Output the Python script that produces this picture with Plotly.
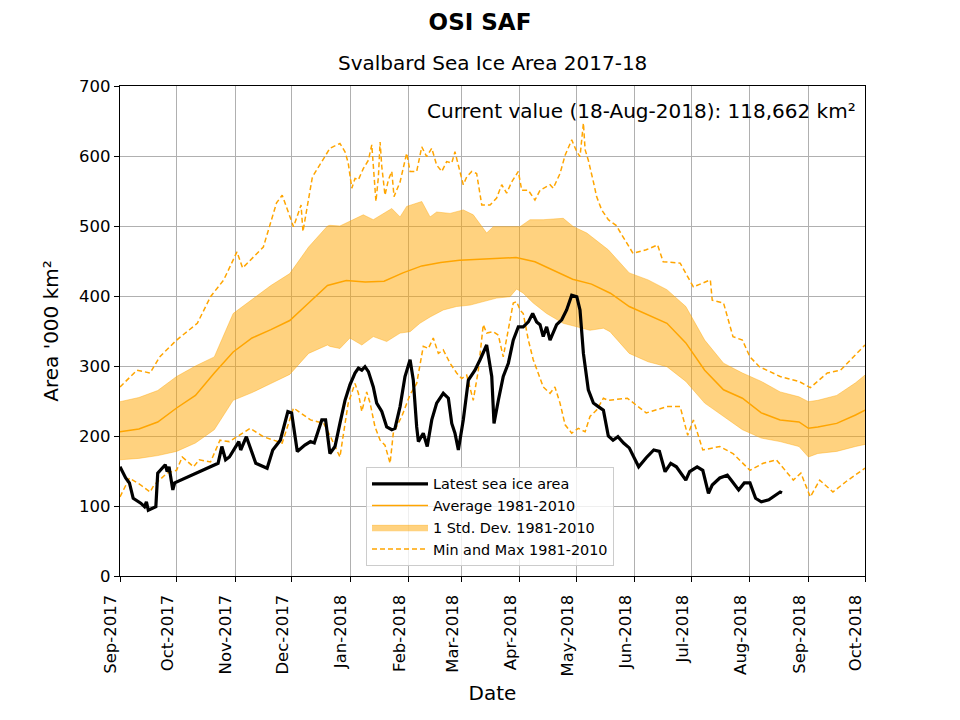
import pandas as pd
import plotly.graph_objects as go

BASE = "2017-09-01"

# Climatology 1981-2010 (days since 1 Sep 2017), values in '000 km²
avg_day = [0, 10, 20, 30, 40, 50, 60, 70, 80, 90, 100, 110, 120, 130, 140, 150, 160, 170, 180, 190,
           200, 210, 220, 230, 240, 250, 260, 270, 280, 290, 300, 310, 320, 330, 340, 350, 360, 365,
           370, 380, 390, 395]
avg_val = [206, 210, 220, 240, 258, 290, 320, 340, 352, 365, 390, 415, 422, 420, 421, 433, 443, 448, 451, 452,
           453, 455, 449, 436, 424, 417, 404, 385, 373, 361, 333, 294, 266, 254, 233, 223, 220, 211,
           213, 218, 230, 237]

upper_day = [0, 10, 20, 30, 40, 50, 60, 70, 80, 90, 100, 110,
             111.3, 116.6, 123.7, 129, 134.3, 144.1, 148.5, 152, 160, 164.4, 167.9, 175, 182, 187.3,
             194.4, 197.9, 205, 212.1, 217.4, 224.4, 235, 240.4, 247.5, 254.5, 258.9,
             270, 280, 290, 300, 310, 320, 330, 340, 350, 360, 365, 370, 380, 390, 395]
upper_val = [249, 255, 265, 285, 300, 313, 375, 395, 415, 432, 470, 500,
             501, 500, 509, 516, 509, 525, 513, 528, 535, 513, 520, 518, 523, 516,
             490, 499, 499, 499, 509, 509, 511, 499, 490, 475, 466,
             433, 423, 409, 385, 337, 304, 290, 278, 263, 256, 249, 251, 258, 276, 287]

lower_day = [0, 10, 20, 30, 40, 50, 60, 70, 80, 90, 100, 110,
             111.3, 116.6, 121.9, 128.2, 134.3, 141.4, 148.5, 153.8, 159, 164.4, 171.4, 178.5, 185.6,
             192.6, 199.7, 206.8, 210.3, 213.8, 219.1, 226.2, 235, 242.2, 249.2, 256.3, 259.8,
             270, 280, 290, 300, 310, 320, 330, 340, 350, 360, 365, 370, 380, 390, 395]
lower_val = [166, 168, 172, 178, 190, 209, 251, 262, 275, 288, 318, 330,
             328, 325, 340, 330, 342, 335, 347, 349, 361, 370, 380, 385, 387,
             392, 397, 399, 410, 404, 390, 375, 361, 356, 351, 354, 349,
             318, 306, 299, 278, 247, 228, 209, 197, 192, 185, 170, 175, 178, 185, 188]

max_day = [0, 9, 16, 21, 30, 41, 48, 55, 62, 65, 76, 83, 86, 92, 96, 97, 102,
           111.3, 116.6, 119.3, 121, 122.9, 124.6, 126.4, 129, 131.7, 133.5, 134.3, 135.7, 137, 137.9, 138.8,
           140.5, 142.3, 144.1, 145.3, 148.5, 152, 153.8, 157.3, 160, 162.6, 165.3, 167.9, 170.6, 173.2,
           175.9, 177.6, 179.4, 182, 183.8, 186.5, 189.1, 191.8, 196.2, 199.7, 202.4, 205, 207.7, 211.2,
           213, 216.5, 220, 222.7, 228, 229.7, 233.3, 236, 239.5, 242.2, 243.9, 245.7, 246.6, 248.3, 251,
           252.7, 255.4, 258.9,
           263, 272, 279, 285, 288, 297, 304, 313, 314, 320, 325, 330, 334, 339, 350, 360, 366, 375, 382, 395]
max_val = [270, 294, 290, 313, 337, 361, 399, 423, 463, 440, 470, 533, 544, 499, 530, 492, 570,
           611, 618, 606, 590, 554, 568, 566, 582, 594, 616, 590, 535, 570, 620, 585,
           544, 566, 578, 542, 563, 604, 578, 578, 613, 599, 611, 587, 578, 592,
           590, 606, 585, 559, 570, 578, 575, 530, 530, 540, 559, 547, 563, 578,
           551, 551, 537, 551, 559, 554, 575, 601, 623, 606, 599, 647, 609, 594, 563,
           542, 523, 509,
           501, 461, 466, 473, 449, 447, 413, 423, 394, 390, 342, 337, 313, 299, 285, 278, 269, 290, 294, 330]

min_day = [0, 5, 11, 16, 18, 25, 30, 33, 39, 42, 48, 53, 58, 69, 76, 86, 92, 101, 108,
           111.3, 116.6, 121, 124.6, 126.4, 128.2, 130.8, 132.6, 135.2, 137.9, 140.5, 143.2, 144.9, 149.4,
           153.8, 157.3, 160.8, 163.5, 166.1, 168.8, 171.4, 175, 178.5, 181.2, 183.8, 187.3, 190, 192.6,
           194.4, 197.9, 200.6, 203.2, 205.9, 208.5, 210.3, 212.1, 213.8, 216.5, 219.1, 221.8, 224.4, 228,
           230.6, 233.3, 236, 239.5, 243, 246.6, 249.2, 252.7, 256.3, 258.9,
           269, 279, 290, 297, 301, 304, 309, 318, 325, 334, 341, 348, 357, 361, 366, 371, 378, 385, 395]
min_val = [113, 140, 130, 120, 130, 147, 151, 170, 156, 166, 163, 194, 192, 211, 199, 190, 240, 223, 218,
           201, 170, 247, 275, 261, 235, 263, 247, 213, 194, 187, 161, 204, 228,
           259, 275, 328, 325, 340, 318, 323, 304, 290, 282, 287, 251, 294, 359,
           347, 349, 344, 313, 351, 390, 392, 380, 375, 337, 309, 290, 270, 261,
           270, 247, 216, 204, 211, 206, 228, 237, 254, 251,
           254, 233, 242, 242, 201, 223, 180, 185, 175, 151, 161, 166, 137, 147, 113, 137, 120, 135, 154]

# Latest sea ice area 2017-18
latest_day = [0, 3, 5, 7, 11, 13, 14, 15, 19, 20, 24, 25, 26, 28, 29,
              52, 54, 56, 58, 63, 64, 67, 72, 78, 81, 85, 89, 91, 94, 98, 101, 103, 107, 109,
              111.3, 114, 116.6, 119.3, 121.9, 124.6, 126.4, 128.2, 129.9, 131.7, 134.3, 136.1, 138.8,
              141.4, 144.1, 145.8, 148.5, 151.1, 153.8, 155.5, 157.3, 158.2, 160.8, 162.9, 165.3, 167.9,
              171.4, 174.1, 175.9, 177.6, 179.4, 182, 184.7, 188.2, 190.9, 194.4, 197.1, 198.3, 200.6,
              203.2, 205.9, 208.5, 211.2, 213.8, 216.5, 218.8, 220.9, 222.7, 224.4, 226.2, 228, 229.7,
              231.5, 234.2, 236.8, 239.5, 242.2, 243.9, 245.7, 248.3, 251, 253.6, 256.3, 258.9,
              261.4, 264, 267, 270, 275, 279, 283, 286, 289, 292, 295, 300, 302, 306, 309, 312, 314, 318,
              322, 324, 328, 331, 334, 337, 340, 344, 346, 350, 351]
latest_val = [156, 140, 133, 111, 104, 99, 106, 94, 99, 147, 159, 149, 156, 123, 133,
              161, 185, 166, 170, 192, 180, 199, 161, 154, 180, 194, 235, 233, 178, 187, 192, 190, 223, 223,
              175, 185, 218, 251, 273, 290, 297, 294, 299, 292, 270, 247, 235,
              213, 209, 211, 242, 285, 309, 280, 213, 192, 204, 185, 223, 247,
              261, 254, 218, 204, 180, 223, 280, 294, 309, 330, 285, 218, 251,
              285, 304, 337, 356, 356, 363, 375, 363, 359, 342, 356, 337, 347,
              359, 366, 380, 401, 399, 380, 318, 266, 247, 242, 237, 200,
              194, 199, 190, 183, 156, 169, 180, 178, 149, 161, 156, 137, 149, 156, 151, 118, 130, 140,
              144, 137, 123, 133, 133, 111, 106, 109, 113, 120, 118.662]

current_text = "Current value (18-Aug-2018): 118,662 km²"


def to_dates(days):
    return pd.Timestamp(BASE) + pd.to_timedelta(days, unit="D")


ORANGE = "#FFA500"
FILL = "rgba(255,165,0,0.5)"
FONT = "DejaVu Sans"

# page body has an 8px margin; compensate so the figure lands where the reference has it
OFF = 8
W, H = 960 - 2 * OFF, 720 - 2 * OFF

fig = go.Figure()

fig.add_trace(go.Scatter(x=to_dates(lower_day), y=lower_val, mode="lines", line=dict(color=FILL, width=0.8),
                         showlegend=False, hoverinfo="skip"))
fig.add_trace(go.Scatter(x=to_dates(upper_day), y=upper_val, mode="lines", line=dict(color=FILL, width=0.8),
                         fill="tonexty", fillcolor=FILL, name="1 Std. Dev. 1981-2010", legendrank=3))
fig.add_trace(go.Scatter(x=to_dates(avg_day), y=avg_val, mode="lines", line=dict(color=ORANGE, width=1.5),
                         name="Average 1981-2010", legendrank=2))
fig.add_trace(go.Scatter(x=to_dates(max_day), y=max_val, mode="lines",
                         line=dict(color=ORANGE, width=1.5, dash="5px,3px"),
                         name="Min and Max 1981-2010", legendrank=4, legendgroup="mm"))
fig.add_trace(go.Scatter(x=to_dates(min_day), y=min_val, mode="lines",
                         line=dict(color=ORANGE, width=1.5, dash="5px,3px"),
                         name="Min and Max 1981-2010", showlegend=False, legendgroup="mm"))
fig.add_trace(go.Scatter(x=to_dates(latest_day), y=latest_val, mode="lines",
                         line=dict(color="black", width=3.2),
                         name="Latest sea ice area", legendrank=1))

fig.update_layout(
    width=W, height=H,
    margin=dict(l=120 - OFF, r=W - (865 - OFF), t=86 - OFF, b=H - (576 - OFF)),
    paper_bgcolor="white", plot_bgcolor="white",
    font=dict(family=FONT, color="black", size=16),
    title=dict(text="<b>OSI SAF</b>", x=(480 - OFF) / W, xanchor="center",
               y=1 - (22 - OFF) / H, yanchor="middle",
               font=dict(size=23, family=FONT, color="black")),
    showlegend=True,
    legend=dict(x=(366 - 120) / 745, y=(576 - 566) / 490, xanchor="left", yanchor="bottom",
                bgcolor="rgba(255,255,255,0.8)", bordercolor="#cccccc", borderwidth=1,
                font=dict(size=14.4, family=FONT), tracegroupgap=0, itemwidth=56),
)

fig.add_annotation(text="Svalbard Sea Ice Area 2017-18", xref="paper", yref="paper",
                   x=0.5, y=(576 - 63) / 490, xanchor="center", yanchor="middle",
                   showarrow=False, font=dict(size=20, family=FONT))
fig.add_annotation(text=current_text, xref="paper", yref="paper",
                   x=(858 - 120) / 745, y=(576 - 111) / 490, xanchor="right", yanchor="middle",
                   showarrow=False, font=dict(size=20, family=FONT))

fig.update_xaxes(
    range=[pd.Timestamp("2017-09-01"), pd.Timestamp("2018-10-01")],
    tickformat="%b-%Y", dtick="M1", tick0="2017-09-01", tickangle=-90,
    tickfont=dict(size=16.5), ticks="outside", ticklen=5, tickwidth=1.3, tickcolor="black",
    ticklabelstandoff=6, ticklabelshift=-9, automargin=False,
    showline=True, linecolor="black", linewidth=1.3, mirror=True,
    showgrid=True, gridcolor="#b0b0b0", gridwidth=1.3,
    title=dict(text="Date", font=dict(size=20), standoff=10),
)
fig.update_yaxes(
    range=[0, 700], dtick=100, tickfont=dict(size=16.5), automargin=False,
    ticks="outside", ticklen=5, tickwidth=1.3, tickcolor="black",
    showline=True, linecolor="black", linewidth=1.3, mirror=True,
    showgrid=True, gridcolor="#b0b0b0", gridwidth=1.3, zeroline=False,
    title=dict(text="Area '000 km²", font=dict(size=20), standoff=15),
)

fig.write_html("out.html")
